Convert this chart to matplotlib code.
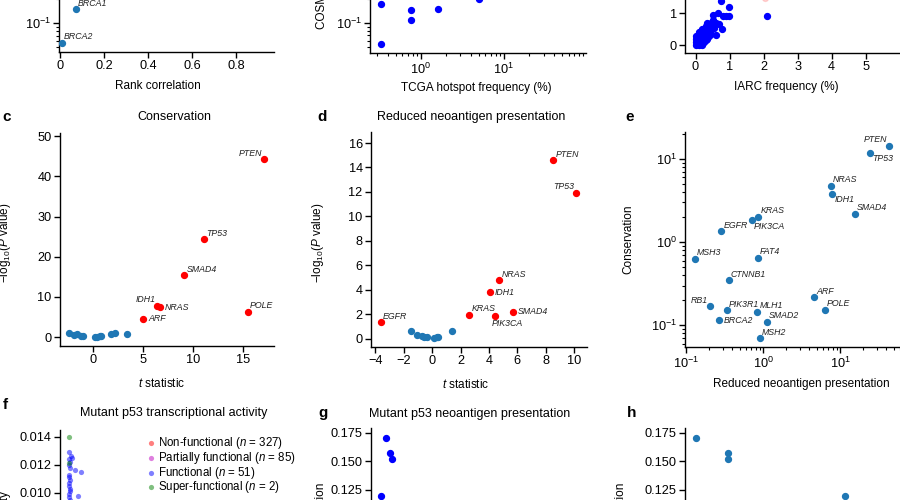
import numpy as np
import matplotlib
matplotlib.use('Agg')
import matplotlib.pyplot as plt
from matplotlib.ticker import LogLocator, NullFormatter

plt.rcParams['font.family'] = ['Liberation Sans', 'DejaVu Sans']
plt.rcParams['mathtext.fontset'] = 'custom'
plt.rcParams['mathtext.rm'] = 'Liberation Sans'
plt.rcParams['mathtext.it'] = 'Liberation Sans:italic'
plt.rcParams['mathtext.bf'] = 'Liberation Sans:bold'

# ---- data ----
# a (top-left, cropped)
a_genes = ['BRCA1', 'BRCA2']
a_rank_corr = [0.073, 0.009]
a_value = [0.151, 0.057]

# b (top-middle, cropped)
b_tcga = [0.334, 0.334, 0.755, 0.755, 1.61, 4.96]
b_cosmic = [0.173, 0.0546, 0.145, 0.109, 0.148, 0.200]

# top-right, IARC vs other frequency (cropped)
iarc_x = [0.0, 0.0, 0.0, 0.0, 0.05, 0.05, 0.05, 0.1, 0.1, 0.1, 0.1, 0.1,
          0.15, 0.15, 0.15, 0.15, 0.15, 0.2, 0.2, 0.2, 0.2, 0.2, 0.2,
          0.25, 0.25, 0.25, 0.25, 0.3, 0.3, 0.3, 0.3, 0.3, 0.35, 0.35, 0.35,
          0.35, 0.4, 0.4, 0.4, 0.45, 0.45, 0.45, 0.5, 0.5, 0.5, 0.52, 0.55,
          0.6, 0.7, 0.76, 0.98, 0.67, 0.81, 0.9, 0.98, 2.09, 0.79, 0.59]
iarc_y = [0.0, 0.1, 0.2, 0.3, 0.05, 0.15, 0.25, 0.0, 0.1, 0.2, 0.3, 0.4,
          0.05, 0.15, 0.25, 0.35, 0.45, 0.0, 0.1, 0.2, 0.3, 0.4, 0.5,
          0.1, 0.2, 0.3, 0.45, 0.15, 0.25, 0.35, 0.5, 0.6, 0.2, 0.4, 0.55,
          0.7, 0.3, 0.45, 0.6, 0.35, 0.5, 0.7, 0.6, 0.8, 0.95, 0.68, 0.55,
          0.7, 0.68, 1.39, 1.21, 1.0, 0.93, 0.93, 0.93, 0.92, 0.5, 0.32]
iarc_hidden_x = [2.05]
iarc_hidden_y = [1.5]

# c Conservation
c_genes = ['PTEN', 'TP53', 'SMAD4', 'IDH1', 'NRAS', 'POLE', 'ARF']
c_t = [17.1, 11.1, 9.16, 6.46, 6.73, 15.46, 5.03]
c_logp = [44.3, 24.4, 15.4, 7.86, 7.5, 6.3, 4.55]
c_ns_t = [-2.4, -1.9, -1.6, -1.2, -1.0, 0.25, 0.45, 0.7, 0.85, 1.85, 2.25, 3.45]
c_ns_logp = [1.0, 0.6, 0.8, 0.25, 0.25, 0.0, 0.1, 0.25, 0.25, 0.8, 1.1, 0.8]

# d Reduced neoantigen presentation
d_genes = ['PTEN', 'TP53', 'NRAS', 'IDH1', 'KRAS', 'PIK3CA', 'SMAD4', 'EGFR']
d_t = [8.54, 10.12, 4.74, 4.08, 2.63, 4.41, 5.68, -3.59]
d_logp = [14.6, 11.94, 4.78, 3.8, 1.97, 1.83, 2.21, 1.34]
d_ns_t = [-1.48, -1.03, -0.7, -0.54, -0.37, 0.1, 0.33, 0.42, 1.41]
d_ns_logp = [0.63, 0.33, 0.2, 0.13, 0.1, 0.06, 0.13, 0.15, 0.63]

# e Conservation vs reduced presentation
e_genes = ['PTEN', 'TP53', 'NRAS', 'IDH1', 'SMAD4', 'KRAS', 'PIK3CA', 'EGFR',
           'MSH3', 'FAT4', 'CTNNB1', 'ARF', 'POLE', 'RB1', 'PIK3R1', 'MLH1',
           'BRCA2', 'SMAD2', 'MSH2']
e_presentation = [43.7, 24.5, 7.6, 7.95, 15.7, 0.87, 0.713, 0.288, 0.131, 0.86,
                  0.359, 4.59, 6.38, 0.205, 0.34, 0.846, 0.266, 1.13, 0.9]
e_conservation = [14.5, 11.8, 4.77, 3.79, 2.19, 2.02, 1.84, 1.35, 0.63, 0.65,
                  0.352, 0.22, 0.155, 0.171, 0.153, 0.146, 0.116, 0.111, 0.0703]

# f Mutant p53 transcriptional activity
f_labels = [r'Non-functional ($n$ = 327)', r'Partially functional ($n$ = 85)',
            r'Functional ($n$ = 51)', r'Super-functional ($n$ = 2)']
f_nonfunc_x = [0.04, 0.05, 0.045, 0.06]
f_nonfunc_y = [0.0012, 0.0018, 0.0025, 0.0031]
f_partial_x = [0.045, 0.05, 0.055]
f_partial_y = [0.0045, 0.0055, 0.0065]
f_func_x = [0.043, 0.05, 0.057, 0.04, 0.045, 0.042, 0.048, 0.07, 0.1, 0.044,
            0.04, 0.047, 0.043, 0.041, 0.046, 0.045, 0.085, 0.042, 0.044, 0.047,
            0.043, 0.045, 0.046, 0.044]
f_func_y = [0.01289, 0.01262, 0.0125, 0.0124, 0.0122, 0.0120, 0.0118, 0.0116,
            0.0115, 0.0113, 0.0111, 0.0109, 0.0107, 0.0105, 0.0103, 0.0101,
            0.0098, 0.0099, 0.0097, 0.0095, 0.0093, 0.0090, 0.0087, 0.0084]
f_super_x = [0.043, 0.043]
f_super_y = [0.0140, 0.0121]

# g Mutant p53 neoantigen presentation
g_x = [0.07, 0.088, 0.096, 0.047]
g_y = [0.1706, 0.1573, 0.152, 0.1192]

# h
h_x = [0.134, 0.348, 0.348, 11.7]
h_y = [0.1706, 0.1573, 0.152, 0.1192]

BLUE = '#1f77b4'
PURE_BLUE = '#0000ff'
W, H = 900, 500
LABEL_FS = 8.5
TICK_FS = 9.2


def add_axes_px(fig, left, top, right, bottom):
    return fig.add_axes([left / W, 1 - bottom / H, (right - left) / W, (bottom - top) / H])


def style(ax):
    for s in ['top', 'right']:
        ax.spines[s].set_visible(False)
    for s in ['left', 'bottom']:
        ax.spines[s].set_linewidth(1.0)
    ax.tick_params(direction='out', length=4, width=1, labelsize=TICK_FS, pad=2)
    ax.tick_params(which='minor', length=2, width=0.8)


PLACE = {
    'ur': (1.5, 1, 'left', 'bottom'),
    'ul': (-1.5, 1, 'right', 'bottom'),
    'lr': (1.5, -1, 'left', 'top'),
    'll': (-2, -2, 'left', 'top'),
    'r': (3.5, 0, 'left', 'center'),
}


def label_genes(ax, genes, xs, ys, where):
    for g, x, y in zip(genes, xs, ys):
        dx, dy, ha, va = PLACE[where.get(g, 'ur')]
        ax.annotate(g, (x, y), xytext=(dx, dy), textcoords='offset points',
                    ha=ha, va=va, fontsize=6.3, style='italic', color='#222222')


def log_axis(axis):
    axis.set_major_locator(LogLocator(base=10))
    axis.set_minor_locator(LogLocator(base=10, subs=np.arange(2, 10)))
    axis.set_minor_formatter(NullFormatter())


fig = plt.figure(figsize=(9, 5), dpi=100)

# ---- top row (cropped) ----
ax_a = add_axes_px(fig, 59, -161, 274, 52)
style(ax_a)
ax_a.scatter(a_rank_corr, a_value, s=18, color=BLUE, zorder=3)
ax_a.set_yscale('log')
log_axis(ax_a.yaxis)
ax_a.set_xlim(-0.005, 0.973)
ax_a.set_ylim(0.0438, 20.1)
ax_a.set_xticks([0, 0.2, 0.4, 0.6, 0.8], ['0', '0.2', '0.4', '0.6', '0.8'])
label_genes(ax_a, a_genes, a_rank_corr, a_value, {})
ax_a.set_xlabel('Rank correlation', fontsize=LABEL_FS)
ax_a.xaxis.set_label_coords(0.46, -0.131)

ax_b = add_axes_px(fig, 370, -160, 586, 53)
style(ax_b)
ax_b.scatter(b_tcga, b_cosmic, s=18, color=PURE_BLUE, zorder=3)
ax_b.set_xscale('log')
ax_b.set_yscale('log')
log_axis(ax_b.xaxis)
log_axis(ax_b.yaxis)
ax_b.set_xlim(0.245, 97)
ax_b.set_ylim(0.0422, 19.4)
ax_b.set_xlabel('TCGA hotspot frequency (%)', fontsize=LABEL_FS)
ax_b.xaxis.set_label_coords(0.494, -0.136)
ax_b.set_ylabel('COSMIC hotspot frequency (%)', fontsize=LABEL_FS)
ax_b.yaxis.set_label_coords(-0.194, 0.5)

ax_i = add_axes_px(fig, 685, -160, 915, 53)
style(ax_i)
ax_i.scatter(iarc_x, iarc_y, s=18, color=PURE_BLUE, zorder=3)
ax_i.scatter(iarc_hidden_x, iarc_hidden_y, s=18, color='red', alpha=0.15, zorder=2)
ax_i.set_xlim(-0.31, 6.45)
ax_i.set_ylim(-0.25, 6.47)
ax_i.set_xticks([0, 1, 2, 3, 4, 5])
ax_i.set_yticks([0, 1, 2, 3, 4, 5, 6])
ax_i.set_xlabel('IARC frequency (%)', fontsize=LABEL_FS)
ax_i.xaxis.set_label_coords(0.442, -0.131)

# ---- middle row ----
ax_c = add_axes_px(fig, 60, 133, 274, 346)
style(ax_c)
ax_c.scatter(c_ns_t, c_ns_logp, s=18, color=BLUE, zorder=3)
ax_c.scatter(c_t, c_logp, s=18, color='red', zorder=3)
ax_c.set_xlim(-3.27, 18.1)
ax_c.set_ylim(-2.2, 50.8)
ax_c.set_xticks([0, 5, 10, 15])
ax_c.set_yticks([0, 10, 20, 30, 40, 50])
label_genes(ax_c, c_genes, c_t, c_logp,
            {'PTEN': 'ul', 'IDH1': 'ul', 'NRAS': 'r', 'ARF': 'r'})
ax_c.set_xlabel(r'$t$ statistic', fontsize=LABEL_FS)
ax_c.xaxis.set_label_coords(0.477, -0.145)
ax_c.set_ylabel(r'$-$log$_{10}$($P$ value)', fontsize=LABEL_FS)
ax_c.yaxis.set_label_coords(-0.22, 0.484)

ax_d = add_axes_px(fig, 371, 132, 587, 347)
style(ax_d)
ax_d.scatter(d_ns_t, d_ns_logp, s=18, color=BLUE, zorder=3)
ax_d.scatter(d_t, d_logp, s=18, color='red', zorder=3)
ax_d.set_xlim(-4.3, 10.9)
ax_d.set_ylim(-0.68, 16.9)
ax_d.set_xticks([-4, -2, 0, 2, 4, 6, 8, 10])
ax_d.set_yticks([0, 2, 4, 6, 8, 10, 12, 14, 16])
label_genes(ax_d, d_genes, d_t, d_logp,
            {'TP53': 'ul', 'IDH1': 'r', 'SMAD4': 'r', 'PIK3CA': 'll'})
ax_d.set_xlabel(r'$t$ statistic', fontsize=LABEL_FS)
ax_d.xaxis.set_label_coords(0.44, -0.145)
ax_d.set_ylabel(r'$-$log$_{10}$($P$ value)', fontsize=LABEL_FS)
ax_d.yaxis.set_label_coords(-0.208, 0.484)

ax_e = add_axes_px(fig, 685, 132, 915, 347)
style(ax_e)
ax_e.scatter(e_presentation, e_conservation, s=18, color=BLUE, zorder=3)
ax_e.set_xscale('log')
ax_e.set_yscale('log')
log_axis(ax_e.xaxis)
log_axis(ax_e.yaxis)
ax_e.set_xlim(0.097, 94)
ax_e.set_ylim(0.055, 21.1)
label_genes(ax_e, e_genes, e_presentation, e_conservation,
            {'PTEN': 'ul', 'TP53': 'lr', 'IDH1': 'lr', 'PIK3CA': 'lr',
             'RB1': 'ul', 'BRCA2': 'r'})
ax_e.set_xlabel('Reduced neoantigen presentation', fontsize=LABEL_FS)
ax_e.xaxis.set_label_coords(0.507, -0.146)
ax_e.set_ylabel('Conservation', fontsize=LABEL_FS)
ax_e.yaxis.set_label_coords(-0.222, 0.5)

# ---- bottom row (cropped) ----
ax_f = add_axes_px(fig, 60, 430, 274, 643)
style(ax_f)
ax_f.scatter(f_nonfunc_x, f_nonfunc_y, s=14, color='red', alpha=0.5, lw=0, label=f_labels[0])
ax_f.scatter(f_partial_x, f_partial_y, s=14, color='m', alpha=0.5, lw=0, label=f_labels[1])
ax_f.scatter(f_func_x, f_func_y, s=14, color='blue', alpha=0.5, lw=0, label=f_labels[2])
ax_f.scatter(f_super_x, f_super_y, s=14, color='green', alpha=0.5, lw=0, label=f_labels[3])
ax_f.set_xlim(0, 1)
ax_f.set_ylim(-0.0007, 0.01448)
ax_f.set_yticks([0, 0.002, 0.004, 0.006, 0.008, 0.010, 0.012, 0.014])
ax_f.yaxis.set_major_formatter(matplotlib.ticker.FormatStrFormatter('%.3f'))
ax_f.legend(frameon=False, loc='upper left', bbox_to_anchor=(0.407, 0.975),
            borderaxespad=0, borderpad=0, handlelength=0.6, handletextpad=0.35,
            labelspacing=-0.12, fontsize=8.3, scatterpoints=1)
ax_f.set_ylabel('Transcriptional activity', fontsize=LABEL_FS)
ax_f.yaxis.set_label_coords(-0.229, 0.44)

ax_g = add_axes_px(fig, 371, 428, 586, 641)
style(ax_g)
ax_g.scatter(g_x, g_y, s=18, color=PURE_BLUE, zorder=3)
ax_g.set_xlim(0, 1)
ax_g.set_ylim(-0.0086, 0.1794)
ax_g.set_yticks([0, 0.025, 0.05, 0.075, 0.1, 0.125, 0.15, 0.175])
ax_g.yaxis.set_major_formatter(matplotlib.ticker.FormatStrFormatter('%.3f'))
ax_g.set_ylabel('Neoantigen presentation', fontsize=LABEL_FS)
ax_g.yaxis.set_label_coords(-0.206, 0.44)

ax_h = add_axes_px(fig, 685, 428, 915, 641)
style(ax_h)
ax_h.scatter(h_x, h_y, s=18, color=BLUE, zorder=3)
ax_h.set_xscale('log')
ax_h.set_xlim(0.097, 94)
ax_h.set_ylim(-0.0086, 0.1794)
ax_h.set_yticks([0, 0.025, 0.05, 0.075, 0.1, 0.125, 0.15, 0.175])
ax_h.yaxis.set_major_formatter(matplotlib.ticker.FormatStrFormatter('%.3f'))
ax_h.set_ylabel('Neoantigen presentation', fontsize=LABEL_FS)
ax_h.yaxis.set_label_coords(-0.253, 0.44)

# titles and panel letters
titles = [('Conservation', 174, 117), ('Reduced neoantigen presentation', 471, 117),
          ('Mutant p53 transcriptional activity', 174, 413),
          ('Mutant p53 neoantigen presentation', 470, 414)]
for text, x, y in titles:
    fig.text(x / W, 1 - y / H, text, ha='center', va='center', fontsize=9)
letters = [('c', 7, 117), ('d', 322, 117), ('e', 630, 117),
           ('f', 5, 405), ('g', 323, 413), ('h', 632, 413)]
for text, x, y in letters:
    fig.text(x / W, 1 - y / H, text, ha='center', va='center', fontsize=11, fontweight='bold')

fig.savefig('out.png', dpi=100)
plt.close(fig)
